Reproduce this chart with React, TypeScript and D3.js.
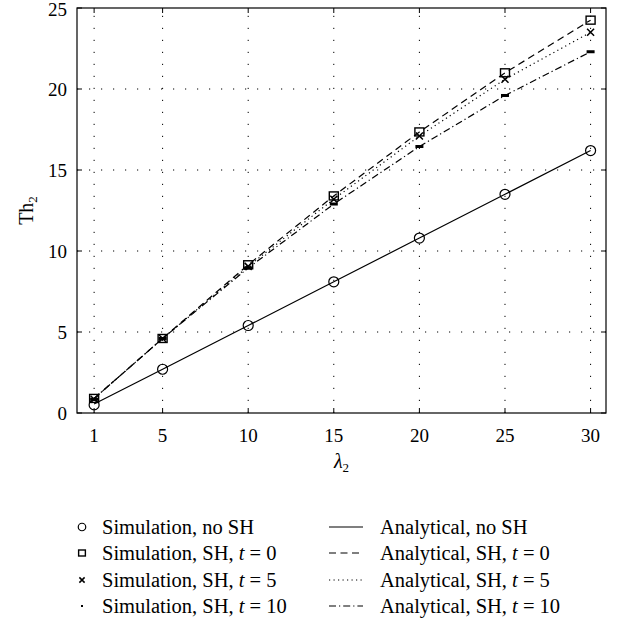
import React from "react";
import * as d3 from "d3";

// λ2 values at which throughput was evaluated
const lambdas = [1, 5, 10, 15, 20, 25, 30];

// Simulated throughput Th2
const simNoSH = [0.5, 2.7, 5.4, 8.1, 10.8, 13.5, 16.2];
const simSH0 = [0.9, 4.6, 9.15, 13.4, 17.35, 21.0, 24.25];
const simSH5 = [0.85, 4.6, 9.05, 13.2, 17.1, 20.6, 23.5];
const simSH10 = [0.85, 4.6, 8.95, 12.9, 16.45, 19.6, 22.3];

// Analytical throughput Th2
const anaNoSH = [0.55, 2.7, 5.4, 8.1, 10.8, 13.5, 16.2];
const anaSH0 = [0.9, 4.6, 9.15, 13.4, 17.35, 21.0, 24.25];
const anaSH5 = [0.9, 4.6, 9.05, 13.2, 17.1, 20.6, 23.5];
const anaSH10 = [0.9, 4.6, 8.95, 12.9, 16.45, 19.6, 22.3];

const xTicks = [1, 5, 10, 15, 20, 25, 30];
const yTicks = [0, 5, 10, 15, 20, 25];

const FONT = "'Liberation Serif', 'Times New Roman', serif";

type Marker = "circle" | "square" | "cross" | "bar" | "dot";

function MarkerShape({ kind, x, y, s = 1 }: { kind: Marker; x: number; y: number; s?: number }) {
  if (kind === "circle")
    return <circle cx={x} cy={y} r={5 * s} fill="none" stroke="#000" strokeWidth={1.2} />;
  if (kind === "square")
    return (
      <rect x={x - 4.5 * s} y={y - 4 * s} width={9 * s} height={8 * s} fill="none" stroke="#000" strokeWidth={1.4} />
    );
  if (kind === "cross") {
    const h = 3.5 * s;
    return (
      <path
        d={`M${x - h},${y - h}L${x + h},${y + h}M${x - h},${y + h}L${x + h},${y - h}`}
        stroke="#000"
        strokeWidth={1.5}
      />
    );
  }
  if (kind === "dot") return <rect x={x - 1} y={y - 1} width={2} height={2} fill="#000" />;
  return <rect x={x - 4 * s} y={y - 1.5 * s} width={8 * s} height={3 * s} fill="#000" />;
}

export default function App() {
  const W = 622;
  const H = 626;
  const left = 77;
  const right = 606;
  const top = 8;
  const bottom = 413;

  const x = d3.scaleLinear().domain([0, 30.9]).range([left, right]);
  const y = d3.scaleLinear().domain([0, 25]).range([bottom, top]);

  const line = (vals: number[]) =>
    d3
      .line<number>()
      .x((_, i) => x(lambdas[i]))
      .y((v) => y(v))(vals) || "";

  const analytical = [
    { vals: anaNoSH, dash: "none", label: "Analytical, no SH", t: null as string | null },
    { vals: anaSH0, dash: "7,4.5", label: "Analytical, SH, ", t: "0" },
    { vals: anaSH5, dash: "1.2,3.3", label: "Analytical, SH, ", t: "5" },
    { vals: anaSH10, dash: "7,3,1.2,3", label: "Analytical, SH, ", t: "10" },
  ];

  const simulated: { vals: number[]; kind: Marker; legendKind: Marker; label: string; t: string | null }[] = [
    { vals: simNoSH, kind: "circle", legendKind: "circle", label: "Simulation, no SH", t: null },
    { vals: simSH0, kind: "square", legendKind: "square", label: "Simulation, SH, ", t: "0" },
    { vals: simSH5, kind: "cross", legendKind: "cross", label: "Simulation, SH, ", t: "5" },
    { vals: simSH10, kind: "bar", legendKind: "dot", label: "Simulation, SH, ", t: "10" },
  ];

  const legendRows = [527, 553, 580, 606];

  const labelText = (label: string, t: string | null) =>
    t === null ? (
      label
    ) : (
      <>
        {label}
        <tspan fontStyle="italic">t</tspan>
        {" = " + t}
      </>
    );

  return (
    <svg width={W} height={H} style={{ position: "absolute", left: 0, top: 0 }} fontFamily={FONT}>
      <rect width={W} height={H} fill="#fff" />

      {/* dotted grid */}
      <g stroke="#000" strokeWidth={1} strokeDasharray="1.2,10.8">
        {xTicks.map((t) => (
          <line key={"gx" + t} x1={x(t)} x2={x(t)} y1={bottom} y2={top} />
        ))}
        {yTicks
          .filter((t) => t > 0 && t < 25)
          .map((t) => (
            <line key={"gy" + t} x1={left} x2={right} y1={y(t)} y2={y(t)} />
          ))}
      </g>

      {/* ticks on all four sides */}
      <g stroke="#000" strokeWidth={1}>
        {xTicks.map((t) => (
          <g key={"tx" + t}>
            <line x1={x(t)} x2={x(t)} y1={bottom} y2={bottom - 5} />
            <line x1={x(t)} x2={x(t)} y1={top} y2={top + 5} />
          </g>
        ))}
        {yTicks.map((t) => (
          <g key={"ty" + t}>
            <line x1={left} x2={left + 5} y1={y(t)} y2={y(t)} />
            <line x1={right} x2={right - 5} y1={y(t)} y2={y(t)} />
          </g>
        ))}
      </g>

      <rect x={left} y={top} width={right - left} height={bottom - top} fill="none" stroke="#000" strokeWidth={1.2} />

      {/* analytical curves */}
      {analytical.map((a, i) => (
        <path key={"a" + i} d={line(a.vals)} fill="none" stroke="#000" strokeWidth={1.2} strokeDasharray={a.dash} />
      ))}

      {/* simulation markers */}
      {simulated.map((s, i) => (
        <g key={"s" + i}>
          {s.vals.map((v, j) => (
            <MarkerShape key={j} kind={s.kind} x={x(lambdas[j])} y={y(v)} />
          ))}
        </g>
      ))}

      {/* axis tick labels */}
      <g fontSize={19} fill="#000">
        {xTicks.map((t) => (
          <text key={"lx" + t} x={x(t)} y={442} textAnchor="middle">
            {t}
          </text>
        ))}
        {yTicks.map((t) => (
          <text key={"ly" + t} x={67} y={Math.max(y(t) + 6.5, 16)} textAnchor="end">
            {t}
          </text>
        ))}
      </g>

      {/* axis titles */}
      <text x={(left + right) / 2} y={468} textAnchor="middle" fontSize={20}>
        <tspan fontStyle="italic">λ</tspan>
        <tspan fontSize={13} dy={4}>2</tspan>
      </text>
      <text transform={`translate(33,${(top + bottom) / 2}) rotate(-90)`} textAnchor="middle" fontSize={20}>
        Th<tspan fontSize={13} dy={4}>2</tspan>
      </text>

      {/* legend */}
      <g fontSize={20.5}>
        {simulated.map((s, i) => (
          <g key={"ls" + i}>
            <MarkerShape kind={s.legendKind} x={82} y={legendRows[i]} s={0.75} />
            <text x={102} y={legendRows[i] + 6.5}>
              {labelText(s.label, s.t)}
            </text>
          </g>
        ))}
        {analytical.map((a, i) => (
          <g key={"la" + i}>
            <line x1={329} x2={363} y1={legendRows[i]} y2={legendRows[i]} stroke="#000" strokeWidth={1.2} strokeDasharray={a.dash} />
            <text x={380} y={legendRows[i] + 6.5}>
              {labelText(a.label, a.t)}
            </text>
          </g>
        ))}
      </g>
    </svg>
  );
}
